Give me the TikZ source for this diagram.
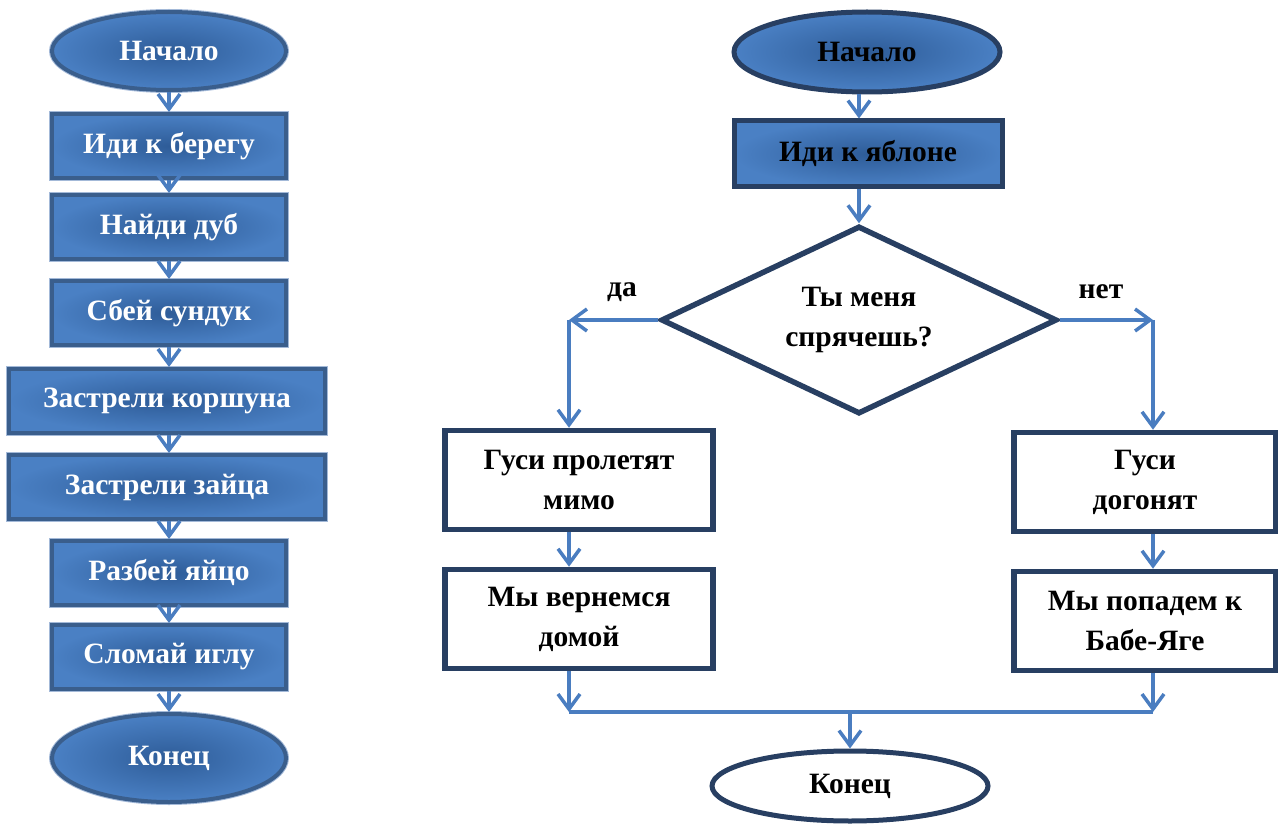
\documentclass[tikz,border=0pt]{standalone}
\usepackage{fontspec}
\setmainfont{Liberation Serif}
\usetikzlibrary{shapes.geometric,arrows.meta,calc}
\definecolor{lin}{HTML}{2E5C98}
\definecolor{lout}{HTML}{4A80C4}
\definecolor{lbord}{HTML}{3A5E8C}
\definecolor{lring}{HTML}{A3B9D8}
\definecolor{navy}{HTML}{283F62}
\definecolor{arrc}{HTML}{4A7DC0}
\tikzset{
  lfill/.style={inner color=lin, outer color=lout},
  bigfont/.style={font=\fontsize{29.5}{40}\selectfont\bfseries},
  lbox/.style={rectangle, lfill, draw=lbord, line width=4pt,
    preaction={draw=lring, line width=6pt},
    text=white, bigfont,
    minimum width=234pt, minimum height=64pt, inner sep=0pt},
  lwide/.style={lbox, minimum width=316pt},
  lterm/.style={ellipse, lfill, draw=lbord, line width=4pt,
    preaction={draw=lring, line width=6pt},
    text=white, bigfont,
    minimum width=234pt, inner sep=0pt},
  rterm/.style={ellipse, draw=navy, line width=5pt, inner sep=0pt,
    text=black, bigfont},
  rbox/.style={rectangle, draw=navy, line width=5.5pt, fill=white, inner sep=0pt,
    text=black, align=center, bigfont,
    minimum height=99pt},
  lbl/.style={text=black, bigfont, inner sep=0pt},
  arr/.style={draw=arrc, line width=3.5pt, -{Straight Barb[length=15pt,width=22pt]}},
  conn/.style={draw=arrc, line width=3.5pt},
}
\begin{document}
\begin{tikzpicture}[x=1pt,y=-1pt]
\useasboundingbox (0,0) rectangle (1278,824);
% left column
\node[lterm, minimum height=78pt] (ls) at (169,51) {Начало};
\node[lbox] (l1) at (169,146) {Иди к берегу};
\node[lbox] (l2) at (169,227) {Найди дуб};
\node[lbox] (l3) at (169,313) {Сбей сундук};
\node[lwide] (l4) at (167,401) {Застрели коршуна};
\node[lwide] (l5) at (167,487) {Застрели зайца};
\node[lbox] (l6) at (169,573) {Разбей яйцо};
\node[lbox] (l7) at (169,657) {Сломай иглу};
\node[lterm, minimum height=88pt] (le) at (169,758) {Конец};
\draw[arr] (ls.south) -- (l1.north);
\draw[arr] (l1.south) -- (l2.north);
\draw[arr] (l2.south) -- (l3.north);
\draw[arr] (l3.south) -- (l3.south |- l4.north);
\draw[arr] (l4.south -| l3.south) -- (l3.south |- l5.north);
\draw[arr] (l5.south -| l3.south) -- (l6.north);
\draw[arr] (l6.south) -- (l7.north);
\draw[arr] (l7.south) -- (le.north);
% right part
\node[rterm, lfill, minimum width=266pt, minimum height=80pt] (rs) at (867,52) {Начало};
\node[rectangle, lfill, draw=navy, line width=5pt, inner sep=0pt,
  minimum width=268pt, minimum height=66pt, bigfont] (r1) at (868,154) {Иди к яблоне};
\node[diamond, shape aspect=2, draw=navy, line width=5.5pt, fill=white, inner sep=0pt,
  minimum width=396pt, minimum height=188pt, align=center, bigfont] (d) at (859,320) {Ты меня\\спрячешь?};
\coordinate (cL) at (569,320);
\coordinate (cR) at (1153,320);
\node[rbox, minimum width=268pt] (a1) at (579,480) {Гуси пролетят\\мимо};
\node[rbox, minimum width=268pt] (a2) at (579,619) {Мы вернемся\\домой};
\node[rbox, minimum width=262pt] (b1) at (1145,482) {Гуси\\догонят};
\node[rbox, minimum width=262pt] (b2) at (1145,621) {Мы попадем к\\Бабе-Яге};
\node[rterm, fill=white, minimum width=276pt, minimum height=70pt] (re) at (850,786) {Конец};
\node[lbl] (yes) at (622,292) {да};
\node[lbl] (no) at (1101,292) {нет};
\coordinate (jL) at (569,712);
\coordinate (jR) at (1153,712);
\coordinate (jM) at (850,712);
\draw[arr] (rs.south -| d.north) -- (r1.north -| d.north);
\draw[arr] (r1.south -| d.north) -- (d.north);
\draw[arr] (d.west) -- (cL);
\draw[arr] (cL) -- (cL |- a1.north);
\draw[arr] (d.east) -- (cR);
\draw[arr] (cR) -- (cR |- b1.north);
\draw[arr] (a1.south -| cL) -- (cL |- a2.north);
\draw[arr] (b1.south -| cR) -- (cR |- b2.north);
\draw[arr] (a2.south -| cL) -- (jL);
\draw[arr] (b2.south -| cR) -- (jR);
\draw[conn] (jL) -- (jR);
\draw[arr] (jM) -- (re.north);
\end{tikzpicture}
\end{document}
